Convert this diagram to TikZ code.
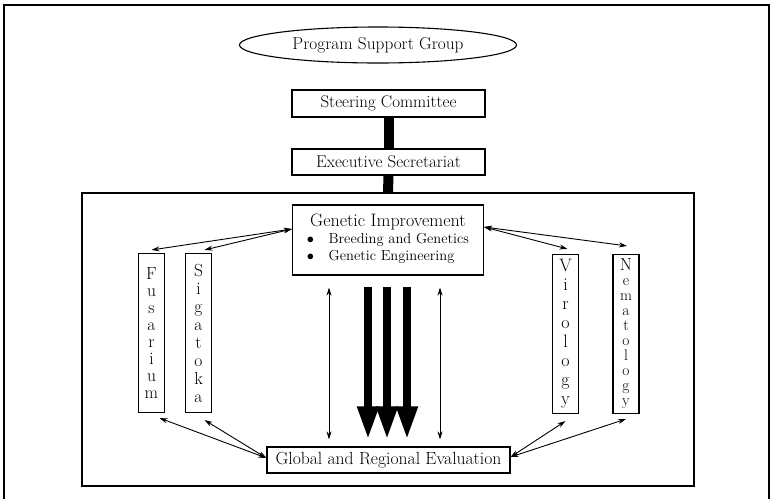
\documentclass[tikz,border=0pt]{standalone}
\usetikzlibrary{arrows.meta,shapes.geometric}
\tikzset{
  box/.style={draw, line width=1.1pt, inner sep=0pt, align=center, font=\fontsize{17}{20}\selectfont},
  vbox/.style={draw, line width=1.1pt, inner sep=0pt, align=center, minimum width=26pt, minimum height=159pt},
  link/.style={line width=0.9pt, {Stealth[length=8pt,width=5pt]}-{Stealth[length=8pt,width=5pt]}},
  bigarrow/.style={line width=7.5pt, -{Triangle[length=33pt,width=20pt]}},
  bar/.style={line width=10pt}
}
\begin{document}
\begin{tikzpicture}[x=1pt,y=-1pt]
\useasboundingbox (0,0) rectangle (771,498);
% outer frame (bottom edge outside the picture)
\draw[line width=1.5pt] (4,500) -- (4,5) -- (769,5) -- (769,500);
% inner frame
\node[draw, line width=1.5pt, minimum width=612pt, minimum height=293pt, inner sep=0pt] (frame) at (388,339.5) {};

\node[draw, ellipse, line width=1.1pt, minimum width=277pt, minimum height=36pt, inner sep=0pt, font=\fontsize{17.3}{20}\selectfont] (psg) at (378,45) {Program Support Group};
\node[box, minimum width=193pt, minimum height=27pt] (sc) at (388.5,103.5) {Steering Committee};
\node[box, minimum width=193pt, minimum height=26pt] (es) at (388.5,162) {Executive Secretariat};

\node[box, minimum width=191pt, minimum height=70pt, font=\fontsize{18}{20}\selectfont] (gi) at (388,240)
  {Genetic Improvement\\[-2pt]
   {\fontsize{14.5}{20}\selectfont\begin{tabular}{@{}l@{}}$\bullet$\quad Breeding and Genetics\\[-3pt] $\bullet$\quad Genetic Engineering\end{tabular}}};

\node[box, minimum width=243pt, minimum height=26pt, font=\fontsize{17.6}{20}\selectfont] (glob) at (388.5,460) {Global and Regional Evaluation};

\node[vbox, font=\fontsize{17.5}{17}\selectfont] (fus) at (151.5,333) {F\\u\\s\\a\\r\\i\\u\\m};
\node[vbox, font=\fontsize{17.5}{18}\selectfont] (sig) at (198.5,333) {S\\i\\g\\a\\t\\o\\k\\a};
\node[vbox, font=\fontsize{18}{19}\selectfont] (vir) at (565.5,334) {V\\i\\r\\o\\l\\o\\g\\y};
\node[vbox, font=\fontsize{15.5}{15}\selectfont] (nem) at (626,334) {{\fontsize{17.5}{15}\selectfont N}\\e\\m\\a\\t\\o\\l\\o\\g\\y};

% thick bars
\draw[bar] (sc.south) -- (es.north);
\draw[bar] (es.south) -- (frame.north);

% connectors on the left
\draw[link] ([yshift=11pt]gi.west) -- ([yshift=3pt]fus.north);
\draw[link] ([yshift=11pt]gi.west) -- ([xshift=6pt,yshift=3pt]sig.north);
\draw[link] ([yshift=2pt]glob.west) -- ([xshift=8pt,yshift=-5pt]fus.south);
\draw[link] ([yshift=2pt]glob.west) -- ([xshift=6pt,yshift=-7pt]sig.south);
% connectors on the right
\draw[link] ([yshift=13pt]gi.east) -- ([xshift=2pt,yshift=5pt]vir.north);
\draw[link] ([yshift=13pt]gi.east) -- ([xshift=1pt,yshift=8pt]nem.north);
\draw[link] ([yshift=3pt]glob.east) -- ([yshift=-7pt]vir.south);
\draw[link] ([yshift=3pt]glob.east) -- ([yshift=-5pt]nem.south);
% vertical thin arrows
\draw[link] ([xshift=-59pt,yshift=-12pt]gi.south) -- ([xshift=-59.5pt,yshift=7pt]glob.north);
\draw[link] ([xshift=52pt,yshift=-12pt]gi.south) -- ([xshift=51.5pt,yshift=7pt]glob.north);
% thick arrows
\draw[bigarrow] ([xshift=-20pt,yshift=-11pt]gi.south) -- ([xshift=-20.5pt,yshift=7pt]glob.north);
\draw[bigarrow] ([xshift=-1pt,yshift=-11pt]gi.south) -- ([xshift=-1.5pt,yshift=7pt]glob.north);
\draw[bigarrow] ([xshift=19pt,yshift=-11pt]gi.south) -- ([xshift=18.5pt,yshift=7pt]glob.north);
\end{tikzpicture}
\end{document}
